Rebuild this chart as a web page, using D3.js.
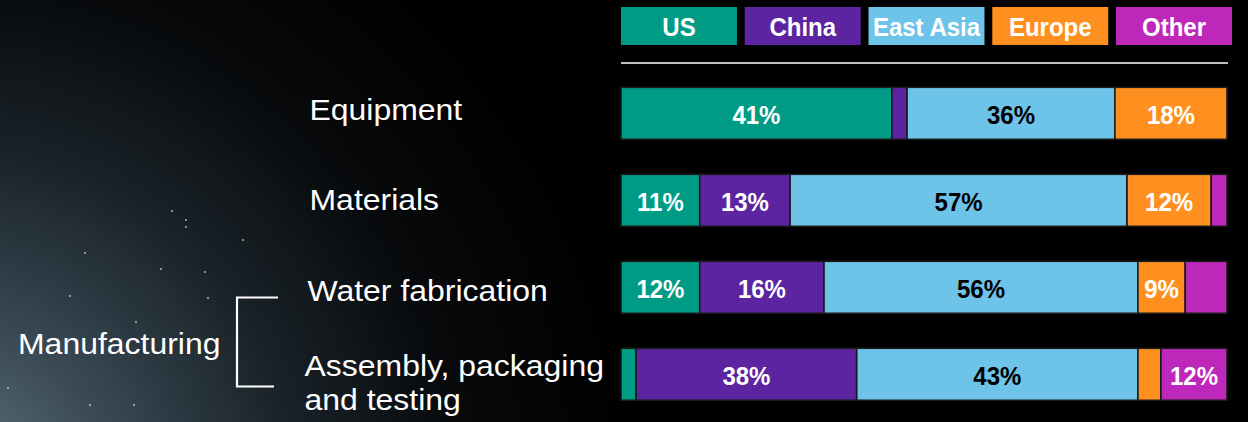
<!DOCTYPE html>
<html>
<head>
<meta charset="utf-8">
<script src="https://cdn.jsdelivr.net/npm/d3@7"></script>
<style>
  html, body { margin: 0; padding: 0; background: #000; }
  svg { display: block; }
  text { font-family: "Liberation Sans", Arial, sans-serif; }
</style>
</head>
<body>
<svg id="chart" width="1248" height="422"></svg>
<script>
// ---- data ----
const categories = ["Equipment", "Materials", "Water fabrication", "Assembly, packaging\nand testing"];
const series = ["US", "China", "East Asia", "Europe", "Other"];
// segment shares (% of bar length)
const us       = [44.7, 13.0, 13.0, 2.5];
const china    = [2.5, 14.9, 20.5, 36.4];
const eastAsia = [34.3, 55.6, 51.8, 46.4];
const europe   = [18.5, 13.9, 7.8, 3.8];
const other    = [0.0, 2.6, 6.9, 10.9];
// printed labels
const usLabels       = ["41%", "11%", "12%", ""];
const chinaLabels    = ["", "13%", "16%", "38%"];
const eastAsiaLabels = ["36%", "57%", "56%", "43%"];
const europeLabels   = ["18%", "12%", "9%", ""];
const otherLabels    = ["", "", "", "12%"];
const groupLabel = "Manufacturing";

const seriesValues = [us, china, eastAsia, europe, other];
const seriesLabels = [usLabels, chinaLabels, eastAsiaLabels, europeLabels, otherLabels];
const colors = ["#009b84", "#5c24a0", "#6ec4e8", "#ff901f", "#bd28bb"];
const labelColors = ["#ffffff", "#ffffff", "#000000", "#ffffff", "#ffffff"];

const svg = d3.select("#chart");
const W = 1248, H = 422;

// ---- background ----
const defs = svg.append("defs");
const rg = defs.append("radialGradient").attr("id", "glow")
  .attr("gradientUnits", "userSpaceOnUse")
  .attr("cx", -60).attr("cy", 500).attr("r", 700);
[[0, "#647b88"], [0.25, "#3a4a55"], [0.5, "#1a2329"], [0.75, "#07090b"], [1, "#000000"]]
  .forEach(([o, c]) => rg.append("stop").attr("offset", o).attr("stop-color", c));
svg.append("rect").attr("width", W).attr("height", H).attr("fill", "#000");
svg.append("rect").attr("width", W).attr("height", H).attr("fill", "url(#glow)");

const stars = [[172,211],[186,220],[186,227],[85,253],[161,269],[70,296],[136,322],[208,298],[8,388],[90,405],[134,405],[243,240],[205,272]];
svg.append("g").selectAll("circle").data(stars).join("circle")
  .attr("cx", d => d[0]).attr("cy", d => d[1]).attr("r", 1.1)
  .attr("fill", "#c8d2d8").attr("opacity", 0.8);

// ---- scales ----
const x = d3.scaleLinear().domain([0, 100]).range([621, 1227]);
const y = d3.scaleBand().domain(categories).range([87.3, 400.3]).paddingInner(0.402).paddingOuter(0);

// stack
const rows = categories.map((c, i) => {
  const o = { cat: c };
  series.forEach((s, j) => { o[s] = seriesValues[j][i]; });
  return o;
});
const stacked = d3.stack().keys(series)(rows);

// ---- legend ----
const lx = d3.scaleBand().domain(series).range([621, 1232]).paddingInner(0.063).paddingOuter(0);
const leg = svg.append("g");
leg.selectAll("rect").data(series).join("rect")
  .attr("x", d => lx(d)).attr("y", 7)
  .attr("width", lx.bandwidth()).attr("height", 38)
  .attr("fill", (d, i) => colors[i]);
leg.selectAll("text").data(series).join("text")
  .attr("transform", d => `translate(${lx(d) + lx.bandwidth() / 2},35.5) scale(0.96,1)`)
  .attr("text-anchor", "middle")
  .attr("fill", "#fff").attr("font-weight", "bold").attr("font-size", 25)
  .text(d => d);
svg.append("line").attr("x1", 621).attr("x2", 1228).attr("y1", 63).attr("y2", 63)
  .attr("stroke", "#fff").attr("stroke-width", 1.5);

// ---- bars ----
const layers = svg.append("g").selectAll("g").data(stacked).join("g")
  .attr("fill", (d, i) => colors[i]);
layers.selectAll("rect").data(d => d.filter(p => p[1] - p[0] > 0)).join("rect")
  .attr("x", d => x(d[0]))
  .attr("y", d => y(d.data.cat))
  .attr("width", d => x(d[1]) - x(d[0]))
  .attr("height", y.bandwidth())
  .attr("stroke", "#1a1a1a").attr("stroke-width", 1.6);

// segment labels
const lab = svg.append("g");
stacked.forEach((layer, si) => {
  lab.selectAll(null).data(layer.map((p, i) => ({ p, i })).filter(o => seriesLabels[si][o.i] !== ""))
    .join("text")
    .attr("transform", o => `translate(${(x(o.p[0]) + x(o.p[1])) / 2},${y(o.p.data.cat) + y.bandwidth() / 2 + 10.7}) scale(0.96,1)`)
    .attr("text-anchor", "middle")
    .attr("font-weight", "bold").attr("font-size", 25)
    .attr("fill", labelColors[si])
    .text(o => seriesLabels[si][o.i]);
});

// ---- category labels ----
const baseOffsets = [6.7, 9.8, 14.2, 2.2];
const lineGap = 33.5;
const cl = svg.append("g");
categories.forEach((c, i) => {
  const lines = c.split("\n");
  const cy = y(c) + y.bandwidth() / 2 + baseOffsets[i];
  const lxPos = lines.length === 1 ? (i < 2 ? 309.5 : 307.5) : 304.5;
  lines.forEach((ln, k) => {
    cl.append("text")
      .attr("transform", `translate(${lxPos},${cy + k * lineGap}) scale(1.065,1)`)
      .attr("fill", "#fff").attr("font-size", 30).text(ln);
  });
});

// ---- group bracket ----
const yTop = y(categories[2]) + 36.2, yBot = y(categories[3]) + y.bandwidth() - 13.8;
svg.append("path")
  .attr("d", `M278,${yTop} H237 V${yBot} H274`)
  .attr("fill", "none").attr("stroke", "#fff").attr("stroke-width", 2.2);
svg.append("text").attr("transform", "translate(18,354) scale(1.065,1)")
  .attr("fill", "#fff").attr("font-size", 30).text(groupLabel);
</script>
</body>
</html>
